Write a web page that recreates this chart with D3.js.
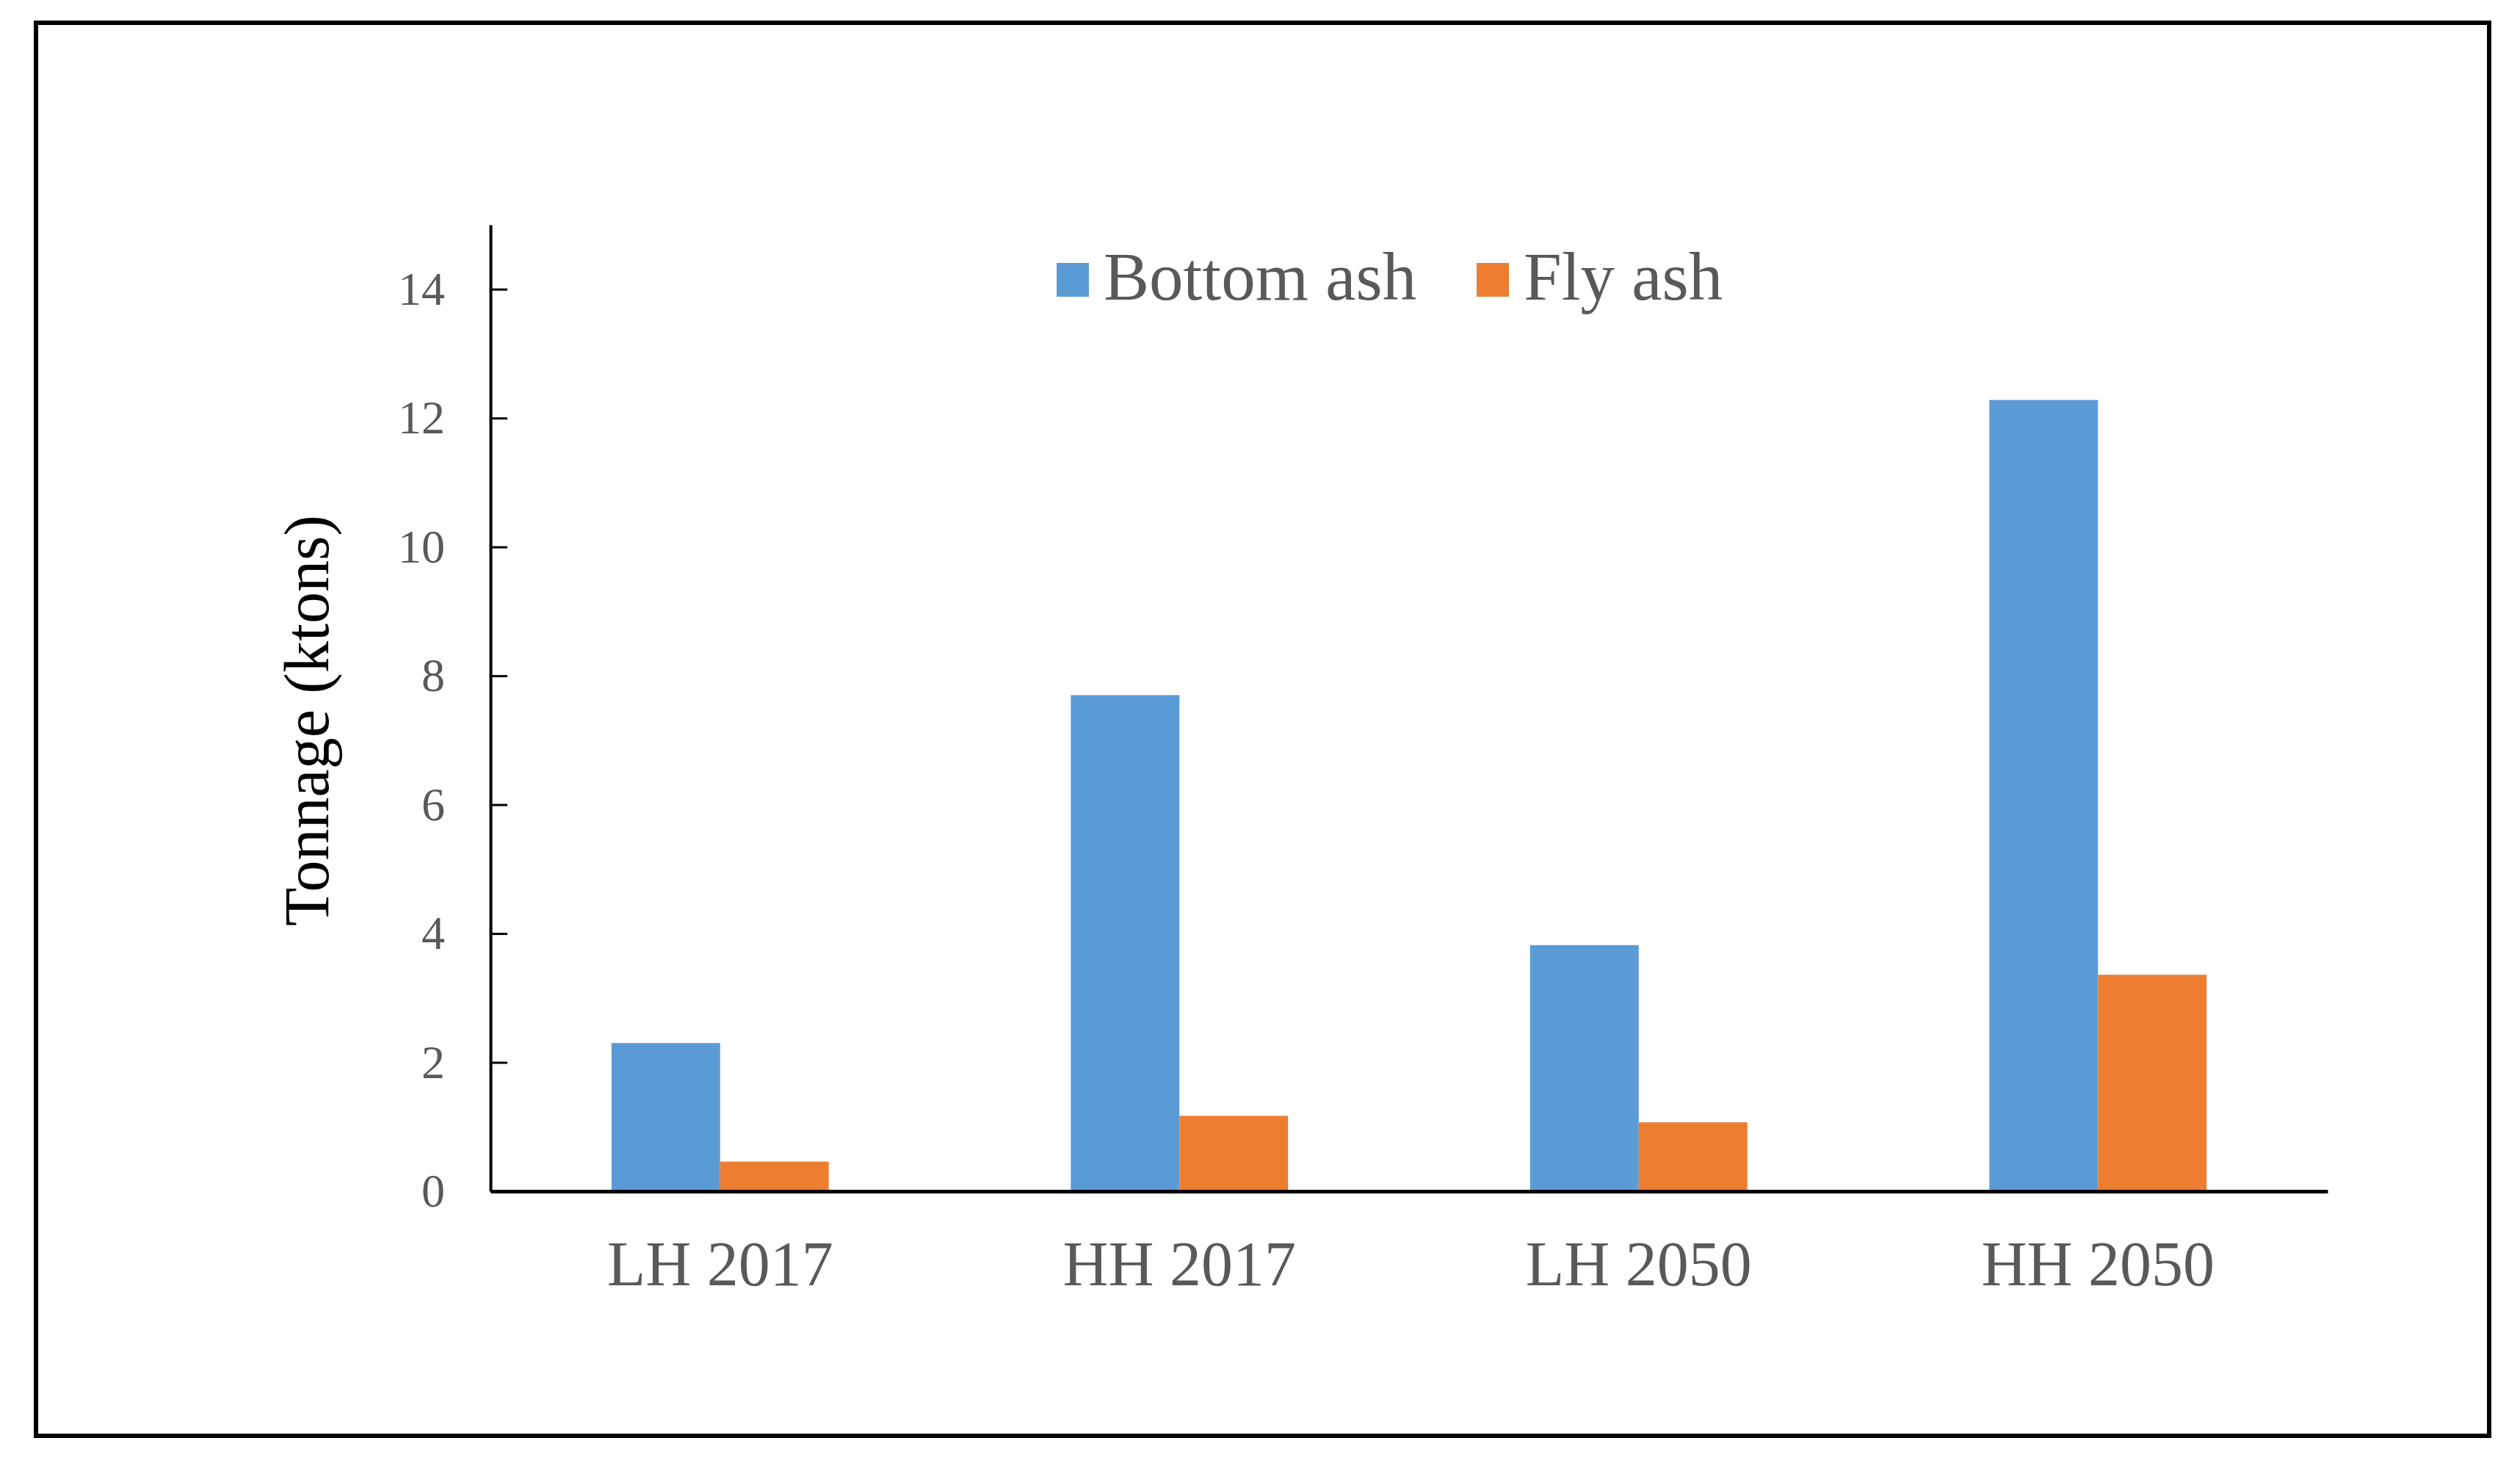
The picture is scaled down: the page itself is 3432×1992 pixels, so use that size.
<!DOCTYPE html>
<html>
<head>
<meta charset="utf-8">
<script src="https://cdn.jsdelivr.net/npm/d3@7"></script>
<style>
  body { margin: 0; background: #fff; }
  svg text { font-family: "Liberation Serif", "Times New Roman", serif; }
</style>
</head>
<body>
<svg id="chart" width="3432" height="1992"></svg>
<script>
  // Data
  const categories = ['LH 2017', 'HH 2017', 'LH 2050', 'HH 2050'];
  const seriesNames = ['Bottom ash', 'Fly ash'];
  const bottomAsh = [2.3, 7.7, 3.82, 12.28];
  const flyAsh = [0.46, 1.17, 1.07, 3.36];
  const yTicks = [0, 2, 4, 6, 8, 10, 12, 14];

  const colors = ['#5B9BD5', '#ED7D31'];
  const textGrey = '#595959';

  const svg = d3.select('#chart');

  // Outer frame
  svg.append('rect')
    .attr('x', 49).attr('y', 31)
    .attr('width', 3341).attr('height', 1924)
    .attr('fill', 'none')
    .attr('stroke', '#000')
    .attr('stroke-width', 6);

  // Plot area
  const plot = { left: 668, right: 3170, top: 306, bottom: 1622 };

  const x = d3.scaleBand()
    .domain(categories)
    .range([plot.left, plot.right])
    .paddingInner(0.527)
    .paddingOuter(0.2635);

  const xSub = d3.scaleBand()
    .domain(seriesNames)
    .range([0, x.bandwidth()]);

  const y = d3.scaleLinear()
    .domain([0, 15])
    .range([plot.bottom, plot.top]);

  const rows = categories.map((c, i) => ({
    category: c,
    values: [bottomAsh[i], flyAsh[i]]
  }));

  // Bars
  const groups = svg.append('g').selectAll('g')
    .data(rows)
    .enter().append('g')
    .attr('transform', d => `translate(${x(d.category)},0)`);

  groups.selectAll('rect')
    .data(d => d.values.map((v, j) => ({ name: seriesNames[j], value: v, j })))
    .enter().append('rect')
    .attr('x', d => xSub(d.name))
    .attr('y', d => y(d.value))
    .attr('width', xSub.bandwidth())
    .attr('height', d => y(0) - y(d.value))
    .attr('fill', d => colors[d.j]);

  // Y axis, ticks pointing into the plot
  const yAxis = svg.append('g')
    .attr('transform', `translate(${plot.left},0)`)
    .call(d3.axisLeft(y)
      .tickValues(yTicks)
      .tickSizeInner(-23)
      .tickSizeOuter(0)
      .tickPadding(62));

  yAxis.select('.domain').attr('stroke', '#000').attr('stroke-width', 4);
  yAxis.selectAll('.tick line').attr('stroke', '#000').attr('stroke-width', 3);
  yAxis.selectAll('.tick text')
    .attr('font-size', 64)
    .attr('fill', textGrey);

  // X axis
  const xAxis = svg.append('g')
    .attr('transform', `translate(0,${plot.bottom})`)
    .call(d3.axisBottom(x)
      .tickSize(0)
      .tickPadding(0));

  xAxis.select('.domain').attr('stroke', '#000').attr('stroke-width', 5);
  xAxis.selectAll('.tick text')
    .attr('dy', null)
    .attr('y', 128)
    .attr('font-size', 86)
    .attr('fill', textGrey);

  // Y axis title
  svg.append('text')
    .attr('transform', 'translate(447,981) rotate(-90)')
    .attr('text-anchor', 'middle')
    .attr('font-size', 86)
    .attr('fill', '#000')
    .text('Tonnage (ktons)');

  // Legend
  const legendItems = [
    { name: seriesNames[0], x: 1439, color: colors[0] },
    { name: seriesNames[1], x: 2011, color: colors[1] }
  ];

  const legend = svg.append('g').selectAll('g')
    .data(legendItems)
    .enter().append('g')
    .attr('transform', d => `translate(${d.x},0)`);

  legend.append('rect')
    .attr('x', 0).attr('y', 358)
    .attr('width', 44).attr('height', 46)
    .attr('fill', d => d.color);

  legend.append('text')
    .attr('x', 64)
    .attr('y', 408)
    .attr('font-size', 93)
    .attr('fill', textGrey)
    .text(d => d.name);
</script>
</body>
</html>
